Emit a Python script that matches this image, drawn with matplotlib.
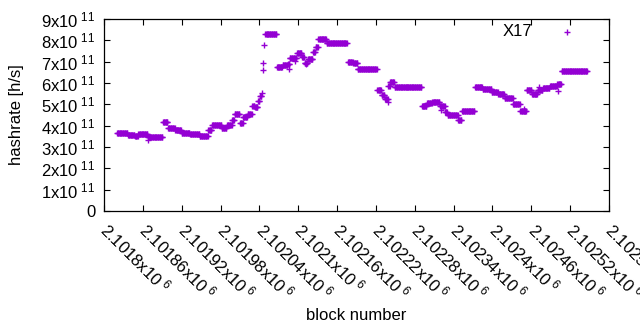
import numpy as np
import matplotlib
matplotlib.use("Agg")
import matplotlib.pyplot as plt
from matplotlib.ticker import FuncFormatter, MultipleLocator

plt.rcParams['font.family'] = ['Liberation Sans', 'DejaVu Sans']
plt.rcParams['mathtext.default'] = 'regular'

# runs of blocks with the same hashrate (start block, end block, hashrate in 1e11 h/s)
seg_start = [2101820, 2101837, 2101848, 2101853, 2101868, 2101891, 2101899, 2101910,
             2101920, 2101933, 2101936, 2101948, 2101961, 2101967, 2101982, 2101990,
             2101998, 2102002, 2102010, 2102015, 2102022, 2102029, 2102033, 2102038,
             2102041, 2102049, 2102067, 2102076, 2102084, 2102087, 2102098, 2102106,
             2102110, 2102115, 2102123, 2102127, 2102131, 2102144, 2102177, 2102185,
             2102192, 2102222, 2102229, 2102234, 2102239, 2102242, 2102249, 2102291,
             2102299, 2102307, 2102319, 2102327, 2102331, 2102347, 2102353, 2102373,
             2102385, 2102399, 2102409, 2102419, 2102432, 2102443, 2102453, 2102461,
             2102470, 2102478, 2102489, 2102500, 2102507]
seg_end = [2101836, 2101847, 2101852, 2101867, 2101890, 2101898, 2101909, 2101919,
           2101932, 2101935, 2101947, 2101960, 2101966, 2101981, 2101989, 2101997,
           2102001, 2102009, 2102014, 2102021, 2102028, 2102032, 2102037, 2102040,
           2102043, 2102066, 2102075, 2102083, 2102086, 2102097, 2102105, 2102109,
           2102114, 2102122, 2102126, 2102130, 2102143, 2102175, 2102184, 2102191,
           2102221, 2102228, 2102233, 2102238, 2102241, 2102248, 2102290, 2102298,
           2102306, 2102318, 2102326, 2102330, 2102346, 2102352, 2102372, 2102384,
           2102398, 2102408, 2102418, 2102431, 2102442, 2102452, 2102460, 2102469,
           2102477, 2102488, 2102499, 2102506, 2102546]
seg_value = [3.66, 3.58, 3.52, 3.61, 3.48, 4.17, 3.89, 3.80,
             3.66, 3.62, 3.59, 3.53, 3.80, 4.03, 3.90, 4.03,
             4.27, 4.53, 4.14, 4.42, 4.55, 4.92, 4.86, 5.15,
             5.39, 8.28, 6.74, 6.84, 6.90, 7.16, 7.39, 7.20,
             6.92, 7.13, 7.45, 7.69, 8.05, 7.86, 7.00, 6.92,
             6.64, 5.67, 5.44, 5.23, 5.86, 6.06, 5.80, 4.92,
             5.05, 5.12, 4.92, 4.65, 4.50, 4.27, 4.69, 5.80,
             5.70, 5.59, 5.48, 5.28, 5.00, 4.69, 5.67, 5.48,
             5.67, 5.75, 5.86, 5.95, 6.56]

# single outlying blocks
single_block = [2101868, 2102044, 2102045, 2102046, 2102047, 2102085, 2102095,
                2102112, 2102239, 2102268, 2102320, 2102449, 2102472, 2102501]
single_value = [3.33, 5.53, 6.61, 6.94, 7.78, 6.66, 7.05,
                6.88, 5.10, 5.80, 4.72, 4.80, 5.80, 5.64]

xs, ys = [], []
for a, b, v in zip(seg_start, seg_end, seg_value):
    blocks = np.arange(a, b + 1)
    xs.extend(blocks)
    ys.extend([v * 1e11] * len(blocks))
xs.extend(single_block)
ys.extend([v * 1e11 for v in single_value])

purple = '#9400d3'
fig = plt.figure(figsize=(6.4, 3.3), dpi=100)
ax = fig.add_axes([104 / 640, 1 - 211 / 330, 505 / 640, 192 / 330])

ax.plot(xs, ys, linestyle='none', marker='+', markersize=4.5, mew=1.0, color=purple)

ax.set_xlim(2101800, 2102580)
ax.set_ylim(0, 9e11)
ax.xaxis.set_major_locator(MultipleLocator(60))
ax.yaxis.set_major_locator(MultipleLocator(1e11))


def xfmt(v, pos):
    return f'{v / 1e6:g}x10$^{{\\ 6}}$'


def yfmt(v, pos):
    n = int(round(v / 1e11))
    return '0' if n == 0 else f'{n}x10$^{{\\ 11}}$'


ax.xaxis.set_major_formatter(FuncFormatter(xfmt))
ax.yaxis.set_major_formatter(FuncFormatter(yfmt))
ax.tick_params(direction='in', length=4, width=0.8, top=True, right=True,
               labelsize=12, colors='black')
ax.tick_params(axis='y', pad=6)
ax.tick_params(axis='x', pad=11)
for lab in ax.get_xticklabels():
    lab.set_rotation(-45)
    lab.set_ha('left')
    lab.set_va('center')
    lab.set_rotation_mode('anchor')
for s in ax.spines.values():
    s.set_linewidth(0.9)

# key, top right inside the frame
ax.text((532 - 104) / 505, (211 - 32) / 192, 'X17', transform=ax.transAxes,
        ha='right', va='center', fontsize=12)
ax.plot([(567 - 104) / 505], [(211 - 32) / 192], transform=ax.transAxes,
        linestyle='none', marker='+', markersize=4.5, mew=1.0, color=purple)

fig.text(356 / 640, 1 - 315 / 330, 'block number', ha='center', va='center', fontsize=12)
fig.text(17 / 640, 1 - 115 / 330, 'hashrate [h/s]', ha='center', va='center',
         rotation=90, fontsize=12)

fig.savefig('out.png', dpi=100)
